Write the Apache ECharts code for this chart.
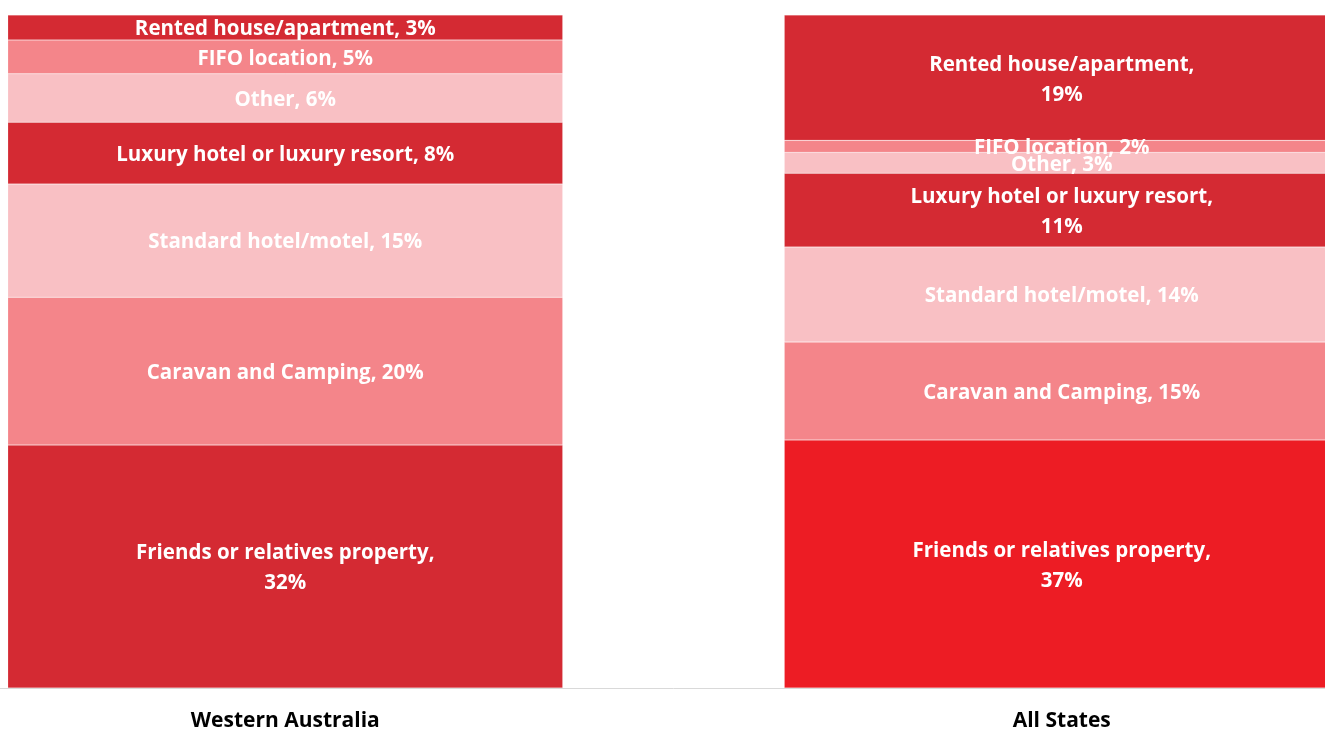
<!DOCTYPE html>
<html>
<head>
<meta charset="utf-8">
<script src="https://cdn.jsdelivr.net/npm/echarts@6/dist/echarts.min.js"></script>
<style>
  html, body { margin: 0; padding: 0; background: #ffffff; overflow: hidden; width: 1325px; height: 735px; }
  #wrap { width: 1325px; height: 735px; overflow: hidden; position: relative; }
  #chart { width: 1553px; height: 735px; position: absolute; left: -103px; top: 0; }
</style>
</head>
<body>
<div id="wrap"><div id="chart"></div></div>
<script>
// Categories (bars)
const categories = ['Western Australia', 'All States'];

// Segment names, bottom to top of the stack
const seriesNames = [
  'Friends or relatives property',
  'Caravan and Camping',
  'Standard hotel/motel',
  'Luxury hotel or luxury resort',
  'Other',
  'FIFO location',
  'Rented house/apartment'
];

// Values (%) for [Western Australia, All States]
const friends  = [32.2, 37.0];
const caravan  = [19.6, 14.6];
const standard = [15.0, 14.2];
const luxury   = [8.2, 11.0];
const other    = [6.4, 3.1];
const fifo     = [4.5, 1.8];
const rented   = [3.3, 18.7];

const seriesValues = [friends, caravan, standard, luxury, other, fifo, rented];

// Styling
const DARK = '#D42A33', MID = '#F4858A', LIGHT = '#F9C0C4', BRIGHT = '#ED1C24';
const seriesColors = [DARK, MID, LIGHT, DARK, LIGHT, MID, DARK];
const wrapped = {
  '0|Friends or relatives property': true,
  '1|Friends or relatives property': true,
  '1|Rented house/apartment': true,
  '1|Luxury hotel or luxury resort': true
};

// Totals per bar for 100% stacking
const totals = categories.map((c, i) => seriesValues.reduce((s, arr) => s + arr[i], 0));

const FONT = '"Open Sans"';

const series = seriesNames.map((name, si) => ({
  name: name,
  type: 'bar',
  stack: 'total',
  barWidth: 555,
  data: seriesValues[si].map((v, ci) => {
    const item = { value: v / totals[ci] * 100, raw: v };
    if (si === 0 && ci === 1) item.itemStyle = { color: BRIGHT };
    return item;
  }),
  itemStyle: { color: seriesColors[si], borderColor: 'rgba(255,255,255,0.35)', borderWidth: 0.5 },
  label: {
    show: true,
    position: 'inside',
    offset: [0, 2],
    color: '#ffffff',
    fontFamily: FONT,
    fontWeight: 'bold',
    fontSize: 20.5,
    lineHeight: 30,
    formatter: (p) => {
      const pct = Math.round(p.data.raw) + '%';
      return wrapped[p.dataIndex + '|' + p.seriesName]
        ? p.seriesName + ',\n' + pct
        : p.seriesName + ', ' + pct;
    }
  },
  emphasis: { disabled: true }
}));

const chart = echarts.init(document.getElementById('chart'), null, { renderer: 'canvas' });
chart.setOption({
  animation: false,
  backgroundColor: '#ffffff',
  grid: { left: 0, right: 0, top: 15, bottom: 47, containLabel: false },
  xAxis: {
    type: 'category',
    data: categories,
    axisLine: { show: true, lineStyle: { color: '#D9D9D9', width: 1 } },
    axisTick: { show: false },
    axisLabel: {
      color: '#000000',
      fontFamily: FONT,
      fontWeight: 'bold',
      fontSize: 21,
      margin: 23
    }
  },
  yAxis: {
    type: 'value',
    min: 0,
    max: 100,
    show: false,
    splitLine: { show: false }
  },
  series: series
});
</script>
</body>
</html>
